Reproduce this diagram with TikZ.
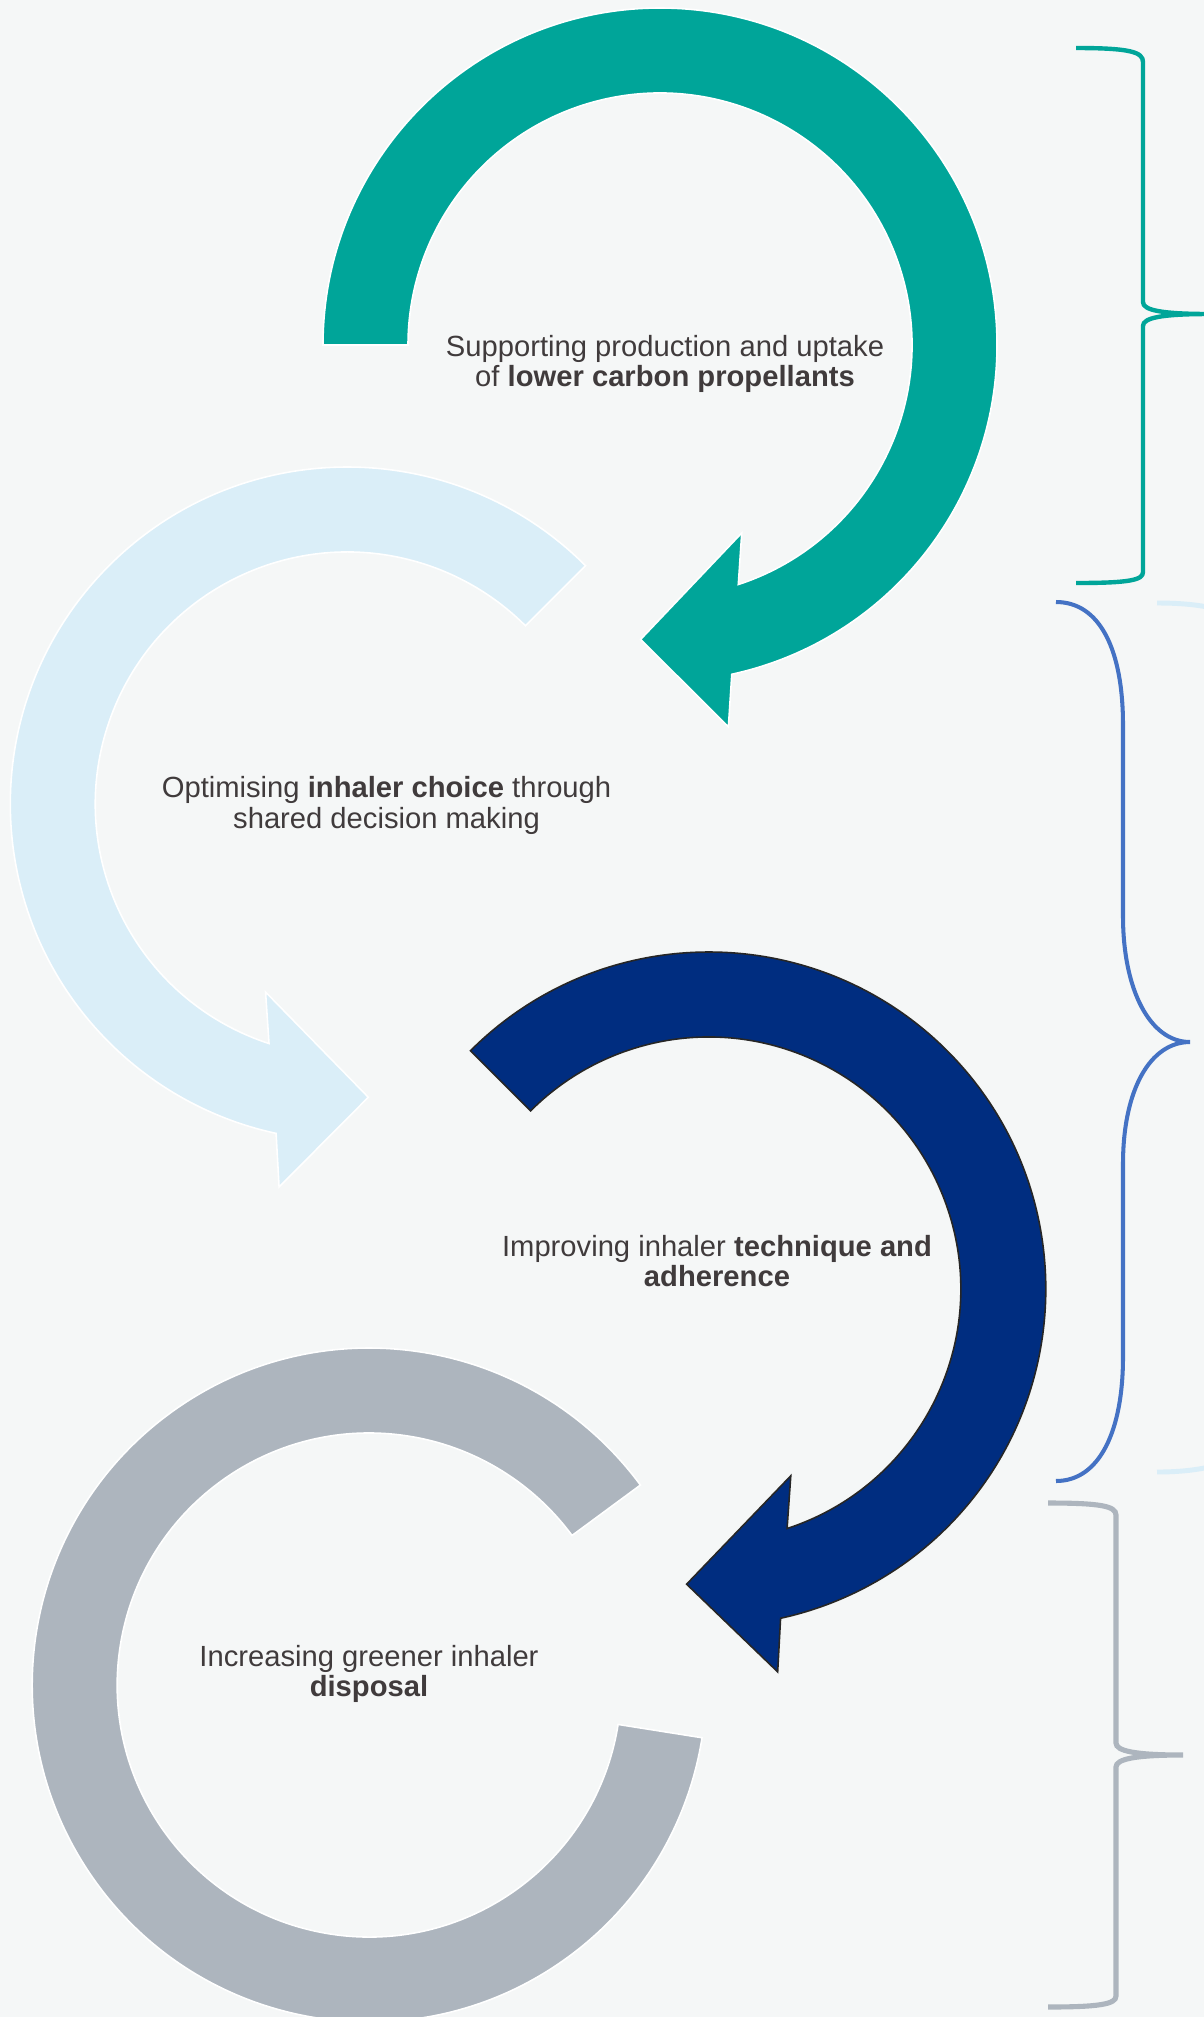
\documentclass[tikz,border=0pt]{standalone}
\usepackage{fontspec}
\setmainfont{Liberation Sans}
\usepackage{xcolor}
\definecolor{pageBg}{HTML}{F5F7F7}
\definecolor{stepTeal}{HTML}{00A599}
\definecolor{stepSky}{HTML}{DAEEF8}
\definecolor{stepNavy}{HTML}{002D80}
\definecolor{stepGrey}{HTML}{ADB5BE}
\definecolor{braceBlue}{HTML}{4472C4}
\definecolor{labelText}{HTML}{403B3C}
\usepackage{tikz}
\tikzset{%
  arrowShape/.style={%
    line width=0.45pt,
    draw=white,
    line join=miter
  },
  stepLabel/.style={%
    align=center,
    text=labelText,
    font=\fontsize{8.3}{8.6}\selectfont,
    inner sep=0pt
  },
  braceLine/.style={%
    line width=1.25pt,
    line cap=butt
  }
}

\begin{document}
\begin{tikzpicture}[x=0.01cm,y=-0.01cm]
    % Page background and frame
    \fill[pageBg] (0,0) rectangle (1204,2017);
    \useasboundingbox (0,0) rectangle (1204,2017);
    \clip (0,0) rectangle (1204,2017);

    % Centres of the four rings
    \coordinate (tealCentre) at (660,345);
    \coordinate (skyCentre) at (347.3,804);
    \coordinate (navyCentre) at (708.8,1289);
    \coordinate (greyCentre) at (369.2,1685);

    % Step 1: teal arrow, clockwise
    \begin{scope}[shift={(tealCentre)}]
        \filldraw[arrowShape, fill=stepTeal]
            (180:252) -- (180:337)
            arc[start angle=180, end angle=437.7, radius=337]
            -- (439.85:388) -- (453.75:295) -- (426.5:205) -- (431.9:252)
            arc[start angle=431.9, end angle=180, radius=252] -- cycle;
    \end{scope}

    % Step 2: light blue arrow, anticlockwise
    \begin{scope}[shift={(skyCentre)}]
        \filldraw[arrowShape, fill=stepSky]
            (315:252) -- (315:337)
            arc[start angle=315, end angle=102.2, radius=337]
            -- (100.1:389) -- (85.9:294) -- (113.5:205) -- (108.1:252)
            arc[start angle=108.1, end angle=315, radius=252] -- cycle;
    \end{scope}

    % Step 3: navy arrow, clockwise
    \begin{scope}[shift={(navyCentre)}]
        \filldraw[arrowShape, draw=black!85, fill=stepNavy]
            (225:252) -- (225:337)
            arc[start angle=225, end angle=437.7, radius=337]
            -- (439.8:389) -- (454.3:296) -- (426.3:204) -- (431.9:252)
            arc[start angle=431.9, end angle=225, radius=252] -- cycle;
    \end{scope}

    % Step 4: grey open ring
    \begin{scope}[shift={(greyCentre)}]
        \filldraw[arrowShape, fill=stepGrey]
            (323.6:252) -- (323.6:337)
            arc[start angle=323.6, end angle=9, radius=337]
            -- (9:252)
            arc[start angle=9, end angle=323.6, radius=252] -- cycle;
    \end{scope}

    % Labels
    \node[stepLabel] (tealLabel) at (665,364)
        {Supporting production and uptake\\of \textbf{lower carbon propellants}};
    \node[stepLabel] (skyLabel) at (386.5,805.5)
        {Optimising \textbf{inhaler choice} through\\shared decision making};
    \node[stepLabel] (navyLabel) at (717,1261)
        {Improving inhaler \textbf{technique and}\\\textbf{adherence}};
    \node[stepLabel] (greyLabel) at (369,1674)
        {Increasing greener inhaler\\\textbf{disposal}};

    % Braces on the right
    \draw[braceLine, stepTeal]
        (1076,48) .. controls (1130,48) and (1143,52) .. (1143,62)
        -- (1143,302) .. controls (1143,310) and (1160,314) .. (1210,314)
        .. controls (1160,314) and (1143,318) .. (1143,326)
        -- (1143,572) .. controls (1143,580) and (1130,583) .. (1076,583);
    \draw[braceLine, line width=1.4pt, stepSky]
        (1157,603) .. controls (1230,603) and (1280,620) .. (1280,700)
        -- (1280,1380) .. controls (1280,1450) and (1230,1472) .. (1157,1472);
    \draw[braceLine, line width=1.15pt, braceBlue]
        (1056,602) .. controls (1100,602) and (1123,650) .. (1123,725)
        -- (1123,916) .. controls (1123,990) and (1150,1042) .. (1190,1042)
        .. controls (1150,1042) and (1123,1090) .. (1123,1164)
        -- (1123,1357) .. controls (1123,1430) and (1100,1481) .. (1056,1481);
    \draw[braceLine, line width=1.45pt, stepGrey]
        (1048,1503) .. controls (1100,1503) and (1116,1506) .. (1116,1515)
        -- (1116,1743) .. controls (1116,1751) and (1135,1755) .. (1183,1755)
        .. controls (1135,1755) and (1116,1759) .. (1116,1767)
        -- (1116,1996) .. controls (1116,2004) and (1100,2007) .. (1048,2007);
\end{tikzpicture}
\end{document}
